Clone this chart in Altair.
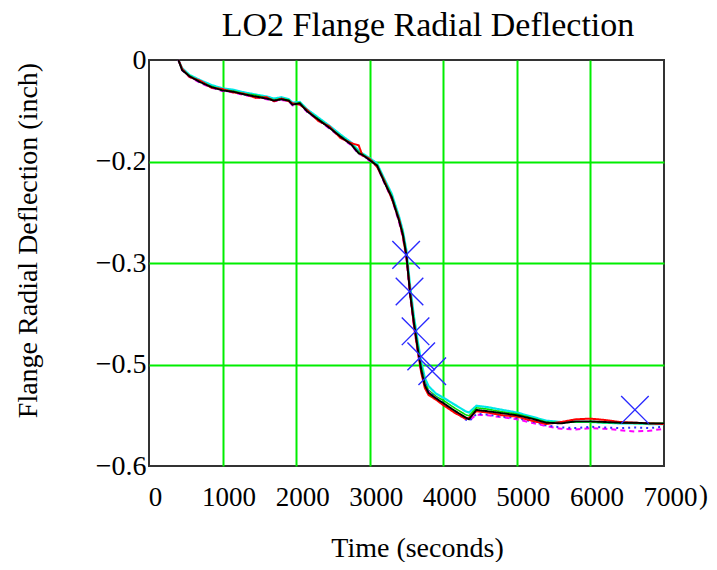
import altair as alt
import pandas as pd

# Time grid (seconds)
T = [400, 450, 550, 700, 850, 1000, 1150, 1300, 1450, 1600, 1700, 1800, 1900, 1950,
     2050, 2150, 2300, 2450, 2600, 2750, 2850, 2900, 3000, 3100, 3200, 3300, 3400,
     3450, 3500, 3550, 3600, 3650, 3700, 3750, 3800, 3900, 4000, 4150, 4300, 4350,
     4450, 4600, 4800, 5000, 5200, 5400, 5600, 5800, 6000, 6200, 6400, 6600, 6800, 7000]

BLACK = [0.0, -0.015, -0.024, -0.033, -0.040, -0.045, -0.047, -0.051, -0.054, -0.057,
         -0.060, -0.058, -0.060, -0.066, -0.064, -0.076, -0.088, -0.100, -0.113, -0.125,
         -0.138, -0.140, -0.148, -0.156, -0.181, -0.203, -0.238, -0.258, -0.290, -0.347,
         -0.388, -0.425, -0.458, -0.481, -0.492, -0.500, -0.507, -0.518, -0.528, -0.531,
         -0.517, -0.519, -0.522, -0.525, -0.530, -0.536, -0.537, -0.534, -0.534, -0.535,
         -0.536, -0.536, -0.537, -0.537]
RED = [0.0, -0.013, -0.025, -0.031, -0.041, -0.043, -0.048, -0.050, -0.056, -0.055,
       -0.061, -0.057, -0.061, -0.064, -0.066, -0.074, -0.090, -0.098, -0.115, -0.123,
       -0.126, -0.141, -0.146, -0.158, -0.179, -0.205, -0.236, -0.260, -0.292, -0.345,
       -0.391, -0.428, -0.462, -0.485, -0.495, -0.502, -0.510, -0.521, -0.530, -0.529,
       -0.519, -0.521, -0.525, -0.527, -0.533, -0.538, -0.535, -0.531, -0.530, -0.532,
       -0.535, -0.536, -0.537, -0.538]
CYAN = [0.0, -0.012, -0.022, -0.030, -0.037, -0.042, -0.044, -0.048, -0.051, -0.054,
        -0.057, -0.055, -0.058, -0.063, -0.062, -0.073, -0.085, -0.097, -0.110, -0.122,
        -0.134, -0.138, -0.145, -0.153, -0.176, -0.198, -0.232, -0.252, -0.282, -0.335,
        -0.378, -0.414, -0.446, -0.470, -0.482, -0.493, -0.499, -0.509, -0.519, -0.521,
        -0.511, -0.513, -0.517, -0.521, -0.527, -0.533, -0.535, -0.535, -0.535, -0.536,
        -0.537, -0.537, -0.538, -0.538]
GREEN = [0.0, -0.014, -0.023, -0.032, -0.039, -0.044, -0.046, -0.050, -0.052, -0.056,
         -0.059, -0.057, -0.059, -0.065, -0.063, -0.075, -0.087, -0.099, -0.112, -0.124,
         -0.136, -0.139, -0.147, -0.155, -0.178, -0.201, -0.235, -0.255, -0.286, -0.340,
         -0.383, -0.420, -0.452, -0.476, -0.488, -0.497, -0.503, -0.514, -0.524, -0.526,
         -0.514, -0.516, -0.520, -0.523, -0.529, -0.535, -0.536, -0.535, -0.535, -0.536,
         -0.536, -0.537, -0.537, -0.537]
MAGENTA = [0.0, -0.015, -0.025, -0.034, -0.041, -0.046, -0.048, -0.052, -0.055, -0.058,
           -0.061, -0.059, -0.061, -0.067, -0.065, -0.077, -0.089, -0.101, -0.114, -0.126,
           -0.139, -0.141, -0.149, -0.157, -0.182, -0.205, -0.240, -0.262, -0.294, -0.350,
           -0.392, -0.430, -0.460, -0.480, -0.490, -0.500, -0.508, -0.520, -0.530, -0.533,
           -0.524, -0.525, -0.528, -0.531, -0.536, -0.541, -0.545, -0.546, -0.544, -0.545,
           -0.547, -0.549, -0.548, -0.545]
BLUE = [0.0, -0.014, -0.024, -0.033, -0.040, -0.045, -0.047, -0.051, -0.054, -0.057,
        -0.060, -0.058, -0.060, -0.066, -0.064, -0.076, -0.088, -0.100, -0.113, -0.125,
        -0.138, -0.140, -0.148, -0.156, -0.180, -0.203, -0.237, -0.257, -0.289, -0.344,
        -0.386, -0.424, -0.455, -0.478, -0.490, -0.499, -0.507, -0.520, -0.531, -0.534,
        -0.523, -0.524, -0.527, -0.529, -0.534, -0.540, -0.543, -0.544, -0.542, -0.543,
        -0.544, -0.543, -0.544, -0.542]

# Measured points (blue X markers)
MARK_T = [3495, 3541, 3623, 3700, 3850, 6605]
MARK_Y = [-0.288, -0.342, -0.401, -0.438, -0.460, -0.517]

X_TICKS = [0, 1000, 2000, 3000, 4000, 5000, 6000, 7000]
Y_TICKS = [0, -0.15, -0.3, -0.45, -0.6]
Y_LABELS = ["0", "\u22120.2", "\u22120.3", "\u22120.5", "\u22120.6"]

TITLE = "LO2 Flange Radial Deflection"
FONT = "Liberation Serif"

# series: (values, colour, dash, width)
SERIES = [
    ("cyan", CYAN, "#00e8e8", [1, 0], 2.2),
    ("green", GREEN, "#00dd00", [1, 0], 1.6),
    ("magenta", MAGENTA, "#ff00ff", [5, 4], 2.0),
    ("blue", BLUE, "#3030ff", [2, 4], 2.0),
    ("red", RED, "#ff0000", [1, 0], 2.0),
    ("black", BLACK, "#000000", [1, 0], 1.9),
]

label_expr = ""
for v, lab in zip(Y_TICKS, Y_LABELS):
    label_expr += f"abs(datum.value - ({v})) < 1e-6 ? '{lab}' : "
label_expr += "''"

x_scale = alt.Scale(domain=[0, 7000], nice=False, zero=False)
y_scale = alt.Scale(domain=[-0.6, 0], nice=False, zero=False)

x_axis = alt.Axis(
    values=X_TICKS, format="d", title="Time (seconds)", labelFontSize=27,
    labelPadding=18, labelOffset=6, labelFlush=False, labelOverlap=False, labelBound=False,
    titleFontSize=28, titleX=268, titleY=90,
    titleBaseline="alphabetic", titleAlign="center",
    gridOpacity={"condition": {"test": "datum.value == 0 || datum.value == 7000", "value": 0}, "value": 1},
)
y_axis = alt.Axis(
    values=Y_TICKS, labelExpr=label_expr, title="Flange Radial Deflection (inch)",
    labelFontSize=28, labelPadding=3, labelFlush=False, labelOverlap=False, labelBound=False,
    titleFontSize=28, titleX=-121, titleY=180,
    titleAngle=-90, titleBaseline="middle", titleAlign="center",
    gridOpacity={"condition": {"test": "abs(datum.value) < 1e-6 || abs(datum.value + 0.6) < 1e-6", "value": 0}, "value": 1},
)

layers = []
for name, vals, col, dash, w in SERIES:
    df = pd.DataFrame({"t": T, "y": vals})
    layers.append(
        alt.Chart(df).mark_line(color=col, strokeDash=dash, strokeWidth=w).encode(
            x=alt.X("t:Q", scale=x_scale, axis=x_axis),
            y=alt.Y("y:Q", scale=y_scale, axis=y_axis),
        )
    )

mk = pd.DataFrame({"t": MARK_T, "y": MARK_Y})
markers = alt.Chart(mk).mark_point(
    shape="M-1,-1L1,1M-1,1L1,-1", size=760, filled=False, color="#2a2aff",
    strokeWidth=1.4, opacity=1,
).encode(
    x=alt.X("t:Q", scale=x_scale, axis=x_axis),
    y=alt.Y("y:Q", scale=y_scale, axis=y_axis),
)

paren = alt.Chart(pd.DataFrame({"s": [")"]})).mark_text(
    font=FONT, fontSize=27, align="left", baseline="alphabetic", color="#000000"
).encode(x=alt.value(550), y=alt.value(444), text="s:N")

title = alt.Chart(pd.DataFrame({"s": [TITLE]})).mark_text(
    font=FONT, fontSize=34, align="center", baseline="alphabetic", color="#000000"
).encode(x=alt.value(279), y=alt.value(-24), text="s:N")

chart = alt.layer(*layers, markers, paren, title).properties(
    width=515, height=406,
    autosize=alt.AutoSizeParams(type="none"),
    padding={"left": 141, "top": 52, "right": 45, "bottom": 96},
).configure_view(
    stroke="#333333", strokeWidth=2
).configure_axis(
    labelFont=FONT, titleFont=FONT, labelColor="#000000", titleColor="#000000",
    titleFontWeight="normal", domain=False, ticks=False, grid=True,
    gridColor="#00ee00", gridWidth=2,
)

chart.save("out.html", embed_options={"renderer": "svg", "actions": False})
